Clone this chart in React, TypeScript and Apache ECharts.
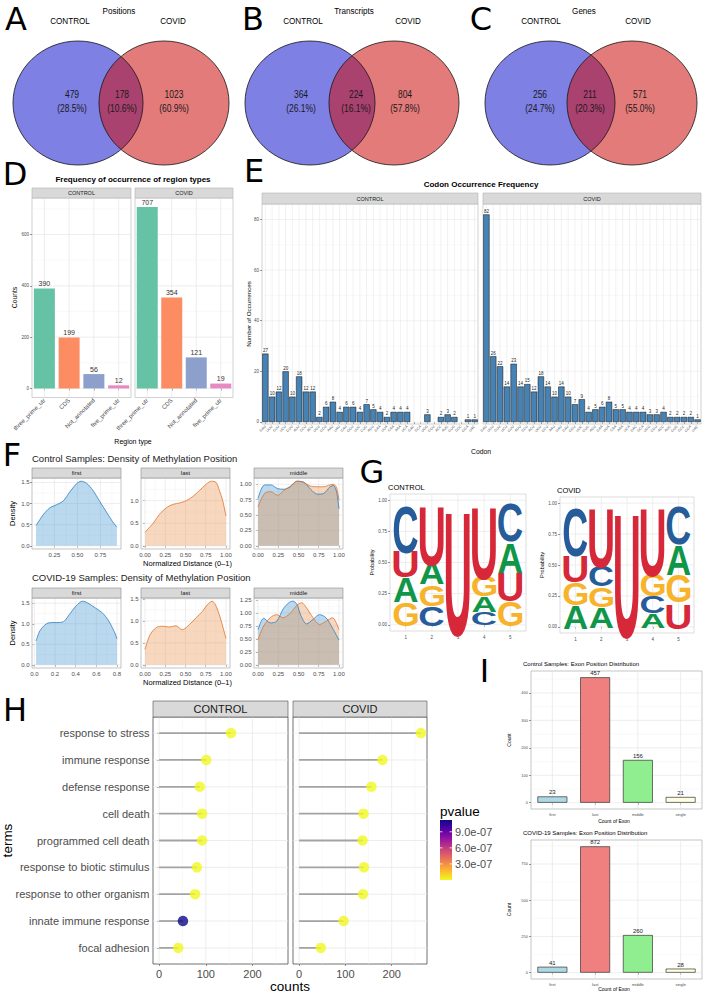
import React, { useEffect, useRef } from 'react';
import * as echarts from 'echarts';

const PAGE_W = 704;
const PAGE_H = 992;
const SANS = '"Liberation Sans", Arial, Helvetica, sans-serif';
const TAG_FONT = '"DejaVu Sans", Verdana, sans-serif';
const LOGO_FONT = 'bold 100px "Liberation Sans", Arial, sans-serif';
const AXIS_TEXT = '#4d4d4d';
const MAJOR = '#e2e2e2';
const MINOR = '#efefef';

/* ---------- A–C: overlap between groups, [CONTROL only, shared, COVID only] ---------- */
const vennGroups = ['CONTROL', 'COVID'];
const vennTitles = ['Positions', 'Transcripts', 'Genes'];
const vennPositions = [479, 178, 1023];
const vennTranscripts = [364, 224, 804];
const vennGenes = [256, 211, 571];

/* ---------- D: region types ---------- */
const regionTypes = ['three_prime_utr', 'CDS', 'Not_annotated', 'five_prime_utr'];
const regionControl = [390, 199, 56, 12];
const regionCovid = [707, 354, 121, 19];
const regionColors = ['#66c2a5', '#fc8d62', '#8da0cb', '#e78ac3'];

/* ---------- E: codon occurrence ---------- */
const codons = [
  'GAU', 'UUU', 'CUU', 'UCU', 'GUU', 'AUU', 'CCU', 'ACU', 'UGU', 'GCU', 'AAU', 'UAU', 'CAU', 'GGU', 'UUC', 'CUG',
  'AGU', 'GAA', 'UUA', 'CAA', 'AAA', 'UCA', 'GAC', 'GCA', 'UGG', 'CGU', 'ACC', 'AUG', 'GUG', 'CCC', 'GGA', 'UAC',
];
const codonControl = [27, 10, 12, 20, 10, 18, 12, 12, 2, 6, 8, 4, 6, 6, 4, 7, 5, 4, 2, 4, 4, 4, null, null, 3, null, 2, 3, 2, null, 1, 1];
const codonCovid = [82, 26, 22, 14, 23, 14, 15, 12, 18, 14, 10, 14, 10, 7, 9, 4, 5, 6, 8, 5, 5, 4, 4, 4, 3, 3, 4, 2, 2, 2, 2, 1];

/* ---------- F: methylation position densities, [normalized distance, density] ---------- */
const ctrlFirst = [[0.05, 0.48], [0.13, 0.74], [0.2, 0.9], [0.27, 0.97], [0.345, 1.06], [0.415, 1.27], [0.49, 1.47], [0.54, 1.53], [0.6, 1.48], [0.67, 1.31], [0.74, 1.06], [0.81, 0.82], [0.88, 0.58], [0.93, 0.44]];
const ctrlLast = [[0, 0.3], [0.1, 0.5], [0.18, 0.7], [0.27, 0.85], [0.35, 0.92], [0.43, 0.95], [0.51, 1.0], [0.59, 1.09], [0.67, 1.22], [0.76, 1.37], [0.82, 1.43], [0.88, 1.4], [0.92, 1.22], [0.96, 1.0], [1.0, 0.66]];
// middle exons carry two overlapping groups
const ctrlMiddleA = [[0, 0.77], [0.08, 0.99], [0.16, 0.99], [0.24, 0.93], [0.32, 0.92], [0.4, 0.96], [0.48, 1.05], [0.56, 1.04], [0.65, 0.92], [0.73, 0.84], [0.81, 0.85], [0.89, 0.96], [0.93, 0.98], [0.97, 0.88], [1.0, 0.6]];
const ctrlMiddleB = [[0, 0.63], [0.08, 0.85], [0.16, 0.88], [0.24, 0.82], [0.32, 0.9], [0.4, 0.97], [0.48, 1.05], [0.56, 1.03], [0.65, 0.97], [0.73, 0.96], [0.81, 0.96], [0.89, 0.99], [0.93, 1.0], [0.97, 0.95], [1.0, 0.74]];
const covidFirst = [[0.016, 0.58], [0.054, 0.83], [0.117, 1.0], [0.181, 1.03], [0.244, 1.03], [0.292, 1.07], [0.34, 1.23], [0.403, 1.43], [0.467, 1.55], [0.514, 1.51], [0.594, 1.38], [0.657, 1.27], [0.72, 1.07], [0.784, 0.75], [0.8, 0.63]];
const covidLast = [[0, 0.35], [0.06, 0.68], [0.14, 0.85], [0.22, 0.88], [0.3, 0.86], [0.38, 0.89], [0.46, 0.8], [0.55, 0.92], [0.63, 1.07], [0.71, 1.22], [0.77, 1.37], [0.83, 1.45], [0.87, 1.37], [0.93, 1.07], [1.0, 0.6]];
const covidMiddleA = [[0, 0.68], [0.07, 0.9], [0.15, 0.81], [0.23, 0.84], [0.31, 1.08], [0.38, 1.2], [0.43, 1.23], [0.48, 1.17], [0.53, 0.95], [0.6, 0.79], [0.68, 0.88], [0.76, 0.97], [0.84, 0.91], [0.92, 0.71], [1.0, 0.48]];
const covidMiddleB = [[0, 0.49], [0.07, 0.75], [0.15, 0.91], [0.23, 0.97], [0.31, 0.91], [0.4, 1.0], [0.48, 1.15], [0.54, 1.2], [0.6, 1.1], [0.68, 0.91], [0.76, 0.78], [0.84, 0.84], [0.92, 0.91], [1.0, 0.68]];

/* ---------- G: motif probabilities per position, listed top → bottom ---------- */
const logoPositions = [1, 2, 3, 4, 5];
const logoControl = [
  [['C', 0.39], ['U', 0.21], ['A', 0.2], ['G', 0.2]],
  [['U', 0.48], ['A', 0.18], ['G', 0.18], ['C', 0.16]],
  [['U', 1.0]],
  [['U', 0.58], ['G', 0.18], ['A', 0.13], ['C', 0.11]],
  [['C', 0.31], ['A', 0.25], ['U', 0.23], ['G', 0.21]],
];
const logoCovid = [
  [['C', 0.4], ['U', 0.22], ['G', 0.19], ['A', 0.19]],
  [['U', 0.48], ['C', 0.18], ['G', 0.17], ['A', 0.17]],
  [['U', 1.0]],
  [['U', 0.55], ['G', 0.19], ['C', 0.14], ['A', 0.12]],
  [['C', 0.31], ['A', 0.25], ['G', 0.23], ['U', 0.21]],
];
const logoColors: Record<string, string> = { A: '#109648', C: '#255c99', G: '#f7b32b', U: '#d62839' };

/* ---------- H: enriched GO terms ---------- */
const goTerms = [
  'response to stress', 'immune response', 'defense response', 'cell death', 'programmed cell death',
  'response to biotic stimulus', 'response to other organism', 'innate immune response', 'focal adhesion',
];
const goControlCounts = [154, 101, 87, 92, 92, 81, 77, 51, 41];
const goCovidCounts = [263, 180, 156, 139, 137, 140, 138, 96, 47];
const goControlP = [2.1e-16, 3.4e-9, 1.2e-9, 5.6e-10, 5.6e-10, 2.3e-9, 4.1e-9, 1.12e-6, 8.5e-9];
const goCovidP = [1.5e-27, 6.2e-14, 2.7e-12, 3.3e-10, 4.8e-10, 1.9e-11, 3.1e-11, 7.4e-9, 2.6e-9];
const pvalueTicks = [3e-7, 6e-7, 9e-7];
const plasmaLowToHigh = ['#f0f921', '#fdb42f', '#ed7953', '#cc4778', '#9c179e', '#5c01a6', '#0d0887'];

/* ---------- I: exon position ---------- */
const exonPositions = ['first', 'last', 'middle', 'single'];
const exonControl = [23, 457, 156, 21];
const exonCovid = [41, 872, 260, 28];
const exonColors = ['#add8e6', '#f08080', '#90ee90', '#ffffe0'];

/* ---------- helpers ---------- */
const f0 = (v: number) => String(Math.round(v));
const fd = (d: number) => (v: number) => v.toFixed(d);

function sci(v: number) {
  const [m, e] = v.toExponential(1).split('e');
  const n = parseInt(e, 10);
  return `${m}e${n < 0 ? '-' : '+'}${String(Math.abs(n)).padStart(2, '0')}`;
}

function mids(ticks: number[], min: number, max: number) {
  const step = ticks[1] - ticks[0];
  const out: number[] = [];
  for (let v = ticks[0] - step / 2; v < max; v += step) if (v > min) out.push(+v.toFixed(6));
  return out;
}

function txt(x: number, y: number, s: string, size: number, o: any = {}) {
  return {
    type: 'text',
    x,
    y,
    rotation: o.rotation || 0,
    scaleX: o.scaleX || 1,
    z: o.z ?? 20,
    silent: true,
    style: {
      text: s,
      font: `${o.weight || 'normal'} ${size}px ${o.family || SANS}`,
      fill: o.color || '#000',
      align: o.align || 'center',
      verticalAlign: o.va || 'middle',
    },
  };
}

function valAxis(range: number[], ticks: number[] | null, fmt: (v: number) => string, size: number, margin: number, extra: any = {}) {
  const on = !!ticks;
  return {
    type: 'value',
    min: range[0],
    max: range[1],
    axisLine: { show: false },
    axisTick: on ? { show: true, customValues: ticks, length: 2, lineStyle: { color: '#333', width: 0.5 } } : { show: false },
    axisLabel: on
      ? { show: true, customValues: ticks, formatter: (v: number) => fmt(v), fontSize: size, fontFamily: SANS, color: AXIS_TEXT, margin }
      : { show: false },
    splitLine: { show: false },
    ...extra,
  };
}

function catAxis(data: string[], size: number, margin: number, rotate = 0) {
  return {
    type: 'category',
    data,
    axisLine: { show: false },
    axisTick: { show: true, alignWithLabel: true, length: 2, lineStyle: { color: '#333', width: 0.5 } },
    axisLabel: { show: true, interval: 0, rotate, fontSize: size, fontFamily: SANS, color: AXIS_TEXT, margin },
    splitLine: { show: false },
  };
}

const glyphCache: Record<string, any> = {};
function glyphBox(ch: string) {
  if (!glyphCache[ch]) {
    const ctx = document.createElement('canvas').getContext('2d') as CanvasRenderingContext2D;
    ctx.font = LOGO_FONT;
    ctx.textAlign = 'left';
    ctx.textBaseline = 'middle';
    const m = ctx.measureText(ch);
    glyphCache[ch] = {
      left: m.actualBoundingBoxLeft,
      w: m.actualBoundingBoxLeft + m.actualBoundingBoxRight,
      top: m.actualBoundingBoxAscent,
      h: m.actualBoundingBoxAscent + m.actualBoundingBoxDescent,
    };
  }
  return glyphCache[ch];
}

function buildOption() {
  const grid: any[] = [];
  const xAxis: any[] = [];
  const yAxis: any[] = [];
  const series: any[] = [];
  const gfx: any[] = [];

  const addPanel = (b: any, xa: any, ya: any, frame: string, frameWidth = 0.6) => {
    const i = grid.length;
    grid.push({ left: b.x, top: b.y, width: b.w, height: b.h, show: true, borderColor: frame, borderWidth: frameWidth, backgroundColor: '#fff', containLabel: false });
    xAxis.push({ ...xa, gridIndex: i });
    yAxis.push({ ...ya, gridIndex: i });
    return i;
  };

  const addGridLines = (i: number, anchor: number[], xs: number[], ys: number[], color: string, width: number) => {
    series.push({
      type: 'custom',
      xAxisIndex: i,
      yAxisIndex: i,
      z: 1,
      silent: true,
      data: [anchor],
      renderItem: (params: any, api: any) => {
        const cs = params.coordSys;
        const kids: any[] = [];
        xs.forEach((v) => {
          const px = api.coord([v, anchor[1]])[0];
          kids.push({ type: 'line', shape: { x1: px, y1: cs.y, x2: px, y2: cs.y + cs.height }, style: { stroke: color, lineWidth: width } });
        });
        ys.forEach((v) => {
          const py = api.coord([anchor[0], v])[1];
          kids.push({ type: 'line', shape: { x1: cs.x, y1: py, x2: cs.x + cs.width, y2: py }, style: { stroke: color, lineWidth: width } });
        });
        return { type: 'group', children: kids };
      },
    });
  };

  const strip = (x: number, y: number, w: number, h: number, label: string, size: number, border: string) => {
    gfx.push({ type: 'rect', shape: { x, y, width: w, height: h }, style: { fill: '#d9d9d9', stroke: border, lineWidth: 0.6 }, z: 10, silent: true });
    gfx.push(txt(x + w / 2, y + h / 2, label, size, { color: '#1a1a1a', z: 11 }));
  };

  /* panel tags */
  const tags: [string, number, number][] = [
    ['A', 16, 19], ['B', 253, 19], ['C', 481, 19], ['D', 15, 174], ['E', 254, 171],
    ['F', 12, 455], ['G', 372, 472], ['H', 15, 710], ['I', 484.5, 671],
  ];
  tags.forEach(([t, x, y]) => gfx.push(txt(x, y, t, 32, { family: TAG_FONT })));

  /* A–C */
  const vennSets = [vennPositions, vennTranscripts, vennGenes];
  const vennLayout = [
    { l: 78, r: 164, title: 119, groups: [70, 173], nums: [72, 122, 174] },
    { l: 310, r: 394, title: 354, groups: [303, 408], nums: [301, 356, 405] },
    { l: 550, r: 632, title: 584, groups: [541, 638], nums: [540, 590, 640] },
  ];
  vennSets.forEach((counts, k) => {
    const L = vennLayout[k];
    const total = counts.reduce((a, b) => a + b, 0);
    const cy = 103, rx = 65, ry = 62;
    gfx.push({ type: 'ellipse', shape: { cx: L.l, cy, rx, ry }, style: { fill: 'rgba(20,24,205,0.55)' }, z: 5, silent: true });
    gfx.push({ type: 'ellipse', shape: { cx: L.r, cy, rx, ry }, style: { fill: 'rgba(205,15,15,0.55)' }, z: 6, silent: true });
    [L.l, L.r].forEach((cx) =>
      gfx.push({ type: 'ellipse', shape: { cx, cy, rx, ry }, style: { fill: 'none', stroke: '#151515', lineWidth: 0.8 }, z: 7, silent: true }),
    );
    gfx.push(txt(L.title, 11, vennTitles[k], 9, { scaleX: 0.9 }));
    gfx.push(txt(L.groups[0], 20.5, vennGroups[0], 9, { scaleX: 0.9 }));
    gfx.push(txt(L.groups[1], 20.5, vennGroups[1], 9, { scaleX: 0.9 }));
    counts.forEach((c, j) => {
      gfx.push(txt(L.nums[j], 95, String(c), 10, { scaleX: 0.85, color: '#1a1a1a', z: 8 }));
      gfx.push(txt(L.nums[j], 109, `(${((c / total) * 100).toFixed(1)}%)`, 10, { scaleX: 0.85, color: '#1a1a1a', z: 8 }));
    });
  });

  /* D */
  const dTicks = [0, 200, 400, 600];
  const dMax = Math.max(...regionControl, ...regionCovid);
  const dY = [-0.05 * dMax, 1.05 * dMax];
  [
    { box: { x: 32, y: 198, w: 99, h: 199.5 }, values: regionControl, name: vennGroups[0], labels: true },
    { box: { x: 135, y: 198, w: 98, h: 199.5 }, values: regionCovid, name: vennGroups[1], labels: false },
  ].forEach((p) => {
    const i = addPanel(p.box, catAxis(regionTypes, 6, 2, 45), valAxis(dY, p.labels ? dTicks : null, f0, 4.5, 3), '#b3b3b3');
    addGridLines(i, [0, 0], [], mids(dTicks, dY[0], dY[1]), MINOR, 0.4);
    addGridLines(i, [0, 0], [0, 1, 2, 3], dTicks, MAJOR, 0.6);
    series.push({
      type: 'bar', xAxisIndex: i, yAxisIndex: i, barWidth: 21, z: 2,
      data: p.values.map((v, k) => ({ value: v, itemStyle: { color: regionColors[k] } })),
      label: { show: true, position: 'top', distance: 1.5, fontSize: 7, fontFamily: SANS, color: '#333' },
    });
    strip(p.box.x, 188, p.box.w, 10, p.name, 5.5, '#b3b3b3');
  });
  gfx.push(txt(133, 179, 'Frequency of occurrence of region types', 8, { weight: 'bold' }));
  gfx.push(txt(14, 297.5, 'Counts', 6.8, { rotation: Math.PI / 2 }));
  gfx.push(txt(133, 441, 'Region type', 7));

  /* E */
  const eTicks = [0, 20, 40, 60, 80];
  const eMax = Math.max(...codonCovid, ...(codonControl.filter((v) => v != null) as number[]));
  const eY = [-0.8, 1.05 * eMax];
  [
    { box: { x: 262, y: 204, w: 216, h: 220 }, values: codonControl, name: vennGroups[0], labels: true },
    { box: { x: 483, y: 204, w: 218, h: 220 }, values: codonCovid, name: vennGroups[1], labels: false },
  ].forEach((p) => {
    const i = addPanel(p.box, catAxis(codons, 3.5, 2, 45), valAxis(eY, p.labels ? eTicks : null, f0, 4.5, 3), '#b3b3b3');
    addGridLines(i, [0, 0], [], mids(eTicks, eY[0], eY[1]), MINOR, 0.4);
    addGridLines(i, [0, 0], codons.map((_, k) => k), eTicks, MAJOR, 0.5);
    series.push({
      type: 'bar', xAxisIndex: i, yAxisIndex: i, barWidth: '92%', z: 2,
      data: p.values.map((v) => (v == null ? '-' : v)),
      itemStyle: { color: '#4682b4', borderColor: '#111', borderWidth: 0.5 },
      label: { show: true, position: 'top', distance: 0.6, fontSize: 4.5, fontFamily: SANS, color: '#222', backgroundColor: '#fff', padding: [0.3, 0.6, 0, 0.6] },
    });
    strip(p.box.x, 193, p.box.w, 11, p.name, 5.5, '#b3b3b3');
  });
  gfx.push(txt(481, 184.5, 'Codon Occurrence Frequency', 8, { weight: 'bold' }));
  gfx.push(txt(248, 314, 'Number of Occurrences', 6.2, { rotation: Math.PI / 2 }));
  gfx.push(txt(481, 451, 'Codon', 6.8));

  /* F */
  const BLUE = { line: '#2f7fc1', fill: 'rgba(60,145,205,0.5)' };
  const ORANGE = { line: '#e2722a', fill: 'rgba(232,140,70,0.5)' };
  const fCols = [32, 141, 254];
  const fW = 89;
  const fStrips = ['first', 'last', 'middle'];
  const fRows = [
    {
      top: 478, h: 71, stripTop: 468, title: 'Control Samples: Density of Methylation Position', titleY: 458.3, densityY: 513.5, xTitleY: 563,
      panels: [
        { curves: [[ctrlFirst, BLUE]], xt: [0.25, 0.5, 0.75], xd: 2, yt: [0, 0.5, 1, 1.5], yd: 1 },
        { curves: [[ctrlLast, ORANGE]], xt: [0, 0.25, 0.5, 0.75, 1], xd: 2, yt: [0, 0.5, 1], yd: 1 },
        { curves: [[ctrlMiddleA, BLUE], [ctrlMiddleB, ORANGE]], xt: [0, 0.25, 0.5, 0.75, 1], xd: 2, yt: [0, 0.25, 0.5, 0.75, 1], yd: 2 },
      ],
    },
    {
      top: 598, h: 70, stripTop: 588, title: 'COVID-19 Samples: Density of Methylation Position', titleY: 577.7, densityY: 633, xTitleY: 682,
      panels: [
        { curves: [[covidFirst, BLUE]], xt: [0, 0.2, 0.4, 0.6, 0.8], xd: 1, yt: [0, 0.5, 1, 1.5], yd: 1 },
        { curves: [[covidLast, ORANGE]], xt: [0, 0.25, 0.5, 0.75, 1], xd: 2, yt: [0, 0.5, 1, 1.5], yd: 1 },
        { curves: [[covidMiddleA, BLUE], [covidMiddleB, ORANGE]], xt: [0, 0.25, 0.5, 0.75, 1], xd: 2, yt: [0, 0.25, 0.5, 0.75, 1, 1.25], yd: 2 },
      ],
    },
  ];
  fRows.forEach((row) => {
    row.panels.forEach((p: any, c) => {
      const pts = p.curves.flatMap((cv: any) => cv[0]);
      const xs = pts.map((q: number[]) => q[0]);
      const ys = pts.map((q: number[]) => q[1]);
      const x0 = Math.min(...xs), x1 = Math.max(...xs), yMax = Math.max(...ys);
      const xr = [x0 - 0.05 * (x1 - x0), x1 + 0.05 * (x1 - x0)];
      const yr = [-0.05 * yMax, 1.05 * yMax];
      const box = { x: fCols[c], y: row.top, w: fW, h: row.h };
      const i = addPanel(box, valAxis(xr, p.xt, fd(p.xd), 6, 3), valAxis(yr, p.yt, fd(p.yd), 6, 2.5), '#9a9a9a');
      addGridLines(i, [p.xt[0], p.yt[0]], mids(p.xt, xr[0], xr[1]), mids(p.yt, yr[0], yr[1]), MINOR, 0.4);
      addGridLines(i, [p.xt[0], p.yt[0]], p.xt, p.yt, MAJOR, 0.6);
      p.curves.forEach((cv: any) => {
        series.push({
          type: 'line', xAxisIndex: i, yAxisIndex: i, z: 2, data: cv[0], smooth: 0.3, showSymbol: false, symbol: 'none',
          lineStyle: { color: cv[1].line, width: 0.8 }, areaStyle: { color: cv[1].fill, origin: 'auto' },
        });
      });
      strip(box.x, row.stripTop, fW, 10, fStrips[c], 6, '#8c8c8c');
    });
    gfx.push(txt(32, row.titleY, row.title, 9.5, { align: 'left', color: '#1a1a1a' }));
    gfx.push(txt(12, row.densityY, 'Density', 7.5, { rotation: Math.PI / 2 }));
    gfx.push(txt(187.5, row.xTitleY, 'Normalized Distance (0–1)', 7.5));
  });

  /* G */
  [
    { box: { x: 390, y: 494, w: 136, h: 137 }, stacks: logoControl, title: vennGroups[0], tx: 388, ty: 487 },
    { box: { x: 560, y: 497, w: 134, h: 136 }, stacks: logoCovid, title: vennGroups[1], tx: 557, ty: 490 },
  ].forEach((p) => {
    const yt = [0, 0.25, 0.5, 0.75, 1];
    const xr = [0.4, logoPositions.length + 0.6];
    const yr = [-0.05, 1.05];
    const i = addPanel(p.box, valAxis(xr, logoPositions, f0, 4.5, 3.5), valAxis(yr, yt, fd(2), 4.5, 3), '#c8c8c8');
    addGridLines(i, [1, 0], [], mids(yt, yr[0], yr[1]), MINOR, 0.4);
    addGridLines(i, [1, 0], logoPositions, yt, MAJOR, 0.6);
    const rects: number[][] = [];
    const letters: string[] = [];
    p.stacks.forEach((stack: any[], k: number) => {
      let lo = 0;
      for (let j = stack.length - 1; j >= 0; j--) {
        const [ch, prob] = stack[j];
        rects.push([logoPositions[k], lo, lo + prob]);
        letters.push(ch);
        lo += prob;
      }
    });
    series.push({
      type: 'custom', xAxisIndex: i, yAxisIndex: i, z: 3, silent: true,
      data: rects,
      encode: { x: 0, y: [1, 2] },
      renderItem: (params: any, api: any) => {
        const pos = api.value(0), lo = api.value(1), hi = api.value(2);
        const a = api.coord([pos - 0.46, hi]);
        const b = api.coord([pos + 0.46, lo]);
        const ch = letters[params.dataIndex];
        const gb = glyphBox(ch);
        const w = b[0] - a[0];
        const h = Math.max(b[1] - a[1] - 0.8, 0.5);
        const sx = w / gb.w, sy = h / gb.h;
        return {
          type: 'text',
          x: a[0] + gb.left * sx,
          y: a[1] + 0.4 + gb.top * sy,
          scaleX: sx,
          scaleY: sy,
          style: { text: ch, font: LOGO_FONT, fill: logoColors[ch], align: 'left', verticalAlign: 'middle' },
        };
      },
    });
    gfx.push(txt(p.tx, p.ty, p.title, 7.5, { align: 'left' }));
    gfx.push(txt(p.box.x - 18, p.box.y + p.box.h / 2, 'Probability', 5.6, { rotation: Math.PI / 2 }));
  });

  /* H */
  const hMax = Math.max(...goControlCounts, ...goCovidCounts);
  const hX = [-0.05 * hMax, 1.05 * hMax];
  const hY = [0.4, goTerms.length + 0.6];
  const hTicks = [0, 100, 200];
  const termIdx = goTerms.map((_, k) => k + 1);
  const scatterIdx: number[] = [];
  [
    { box: { x: 153, y: 717, w: 135, h: 247 }, counts: goControlCounts, p: goControlP, name: vennGroups[0], labels: true },
    { box: { x: 293, y: 717, w: 134, h: 247 }, counts: goCovidCounts, p: goCovidP, name: vennGroups[1], labels: false },
  ].forEach((p) => {
    const i = addPanel(
      p.box,
      valAxis(hX, hTicks, f0, 11, 4),
      valAxis(hY, p.labels ? termIdx : null, (v) => goTerms[Math.round(v) - 1] || '', 11, 3.5, { inverse: true }),
      '#4d4d4d',
      0.8,
    );
    addGridLines(i, [0, 1], mids(hTicks, hX[0], hX[1]), [], '#f3f3f3', 0.5);
    addGridLines(i, [0, 1], hTicks, termIdx, '#e8e8e8', 0.8);
    series.push({
      type: 'custom', xAxisIndex: i, yAxisIndex: i, z: 2, silent: true,
      data: p.counts.map((c, k) => [c, k + 1]),
      encode: { x: 0, y: 1 },
      renderItem: (_: any, api: any) => {
        const a = api.coord([0, api.value(1)]);
        const b = api.coord([api.value(0), api.value(1)]);
        return { type: 'line', shape: { x1: a[0], y1: a[1], x2: b[0], y2: b[1] }, style: { stroke: '#a3a3a3', lineWidth: 1.8 } };
      },
    });
    scatterIdx.push(series.length);
    series.push({
      type: 'scatter', xAxisIndex: i, yAxisIndex: i, z: 3, symbolSize: 10.5,
      data: p.counts.map((c, k) => [c, k + 1, p.p[k]]),
    });
    strip(p.box.x, 701, p.box.w, 16, p.name, 11, '#4d4d4d');
  });
  gfx.push(txt(290, 986, 'counts', 13.5));
  gfx.push(txt(7.5, 840.5, 'terms', 13.5, { rotation: Math.PI / 2 }));

  const pAll = [...goControlP, ...goCovidP];
  const pMin = Math.min(...pAll);
  const pMax = Math.max(...pAll);
  const bar = { x: 440, y: 820, w: 12, h: 60 };
  const stopsHighToLow = plasmaLowToHigh.slice().reverse();
  gfx.push({
    type: 'rect', shape: { x: bar.x, y: bar.y, width: bar.w, height: bar.h }, z: 10, silent: true,
    style: { fill: { type: 'linear', x: 0, y: 0, x2: 0, y2: 1, colorStops: stopsHighToLow.map((c, k) => ({ offset: k / (stopsHighToLow.length - 1), color: c })) } },
  });
  gfx.push(txt(440, 811, 'pvalue', 13.5, { align: 'left' }));
  pvalueTicks.forEach((t) => {
    const y = bar.y + bar.h * (1 - (t - pMin) / (pMax - pMin));
    gfx.push({ type: 'line', shape: { x1: bar.x, y1: y, x2: bar.x + 2.4, y2: y }, style: { stroke: '#fff', lineWidth: 0.8 }, z: 11, silent: true });
    gfx.push({ type: 'line', shape: { x1: bar.x + bar.w - 2.4, y1: y, x2: bar.x + bar.w, y2: y }, style: { stroke: '#fff', lineWidth: 0.8 }, z: 11, silent: true });
    gfx.push(txt(455, y, sci(t), 11, { align: 'left', color: AXIS_TEXT }));
  });

  /* I */
  [
    { box: { x: 531, y: 671, w: 171, h: 138 }, values: exonControl, ticks: [0, 100, 200, 300, 400], title: 'Control Samples: Exon Position Distribution', titleY: 664, xTitleY: 821 },
    { box: { x: 531, y: 840, w: 171, h: 139 }, values: exonCovid, ticks: [0, 250, 500, 750], title: 'COVID-19 Samples: Exon Position Distribution', titleY: 833, xTitleY: 988.5 },
  ].forEach((p) => {
    const m = Math.max(...p.values);
    const yr = [-0.05 * m, 1.05 * m];
    const i = addPanel(p.box, catAxis(exonPositions, 4, 3), valAxis(yr, p.ticks, f0, 4, 3), '#a0a0a0');
    addGridLines(i, [0, 0], [], mids(p.ticks, yr[0], yr[1]), MINOR, 0.4);
    addGridLines(i, [0, 0], [0, 1, 2, 3], p.ticks, MAJOR, 0.6);
    series.push({
      type: 'bar', xAxisIndex: i, yAxisIndex: i, barWidth: '70%', z: 2,
      data: p.values.map((v, k) => ({ value: v, itemStyle: { color: exonColors[k], borderColor: '#333', borderWidth: 0.7 } })),
      label: { show: true, position: 'top', distance: 1, fontSize: 6, fontFamily: SANS, color: '#222' },
    });
    gfx.push(txt(523, p.titleY, p.title, 6, { align: 'left' }));
    gfx.push(txt(614, p.xTitleY, 'Count of Exon', 5));
    gfx.push(txt(509, p.box.y + p.box.h / 2, 'Count', 5, { rotation: Math.PI / 2 }));
  });

  return {
    animation: false,
    backgroundColor: '#fff',
    textStyle: { fontFamily: SANS },
    grid,
    xAxis,
    yAxis,
    series,
    graphic: gfx,
    visualMap: [
      { type: 'continuous', show: false, seriesIndex: scatterIdx, dimension: 2, min: pMin, max: pMax, inRange: { color: plasmaLowToHigh } },
    ],
  };
}

export default function App() {
  const ref = useRef<HTMLDivElement>(null);
  useEffect(() => {
    const chart = echarts.init(ref.current as HTMLDivElement, null, { renderer: 'svg', width: PAGE_W, height: PAGE_H });
    chart.setOption(buildOption() as any);
    return () => chart.dispose();
  }, []);
  return <div ref={ref} style={{ position: 'fixed', left: 0, top: 0, width: PAGE_W, height: PAGE_H, background: '#fff' }} />;
}
